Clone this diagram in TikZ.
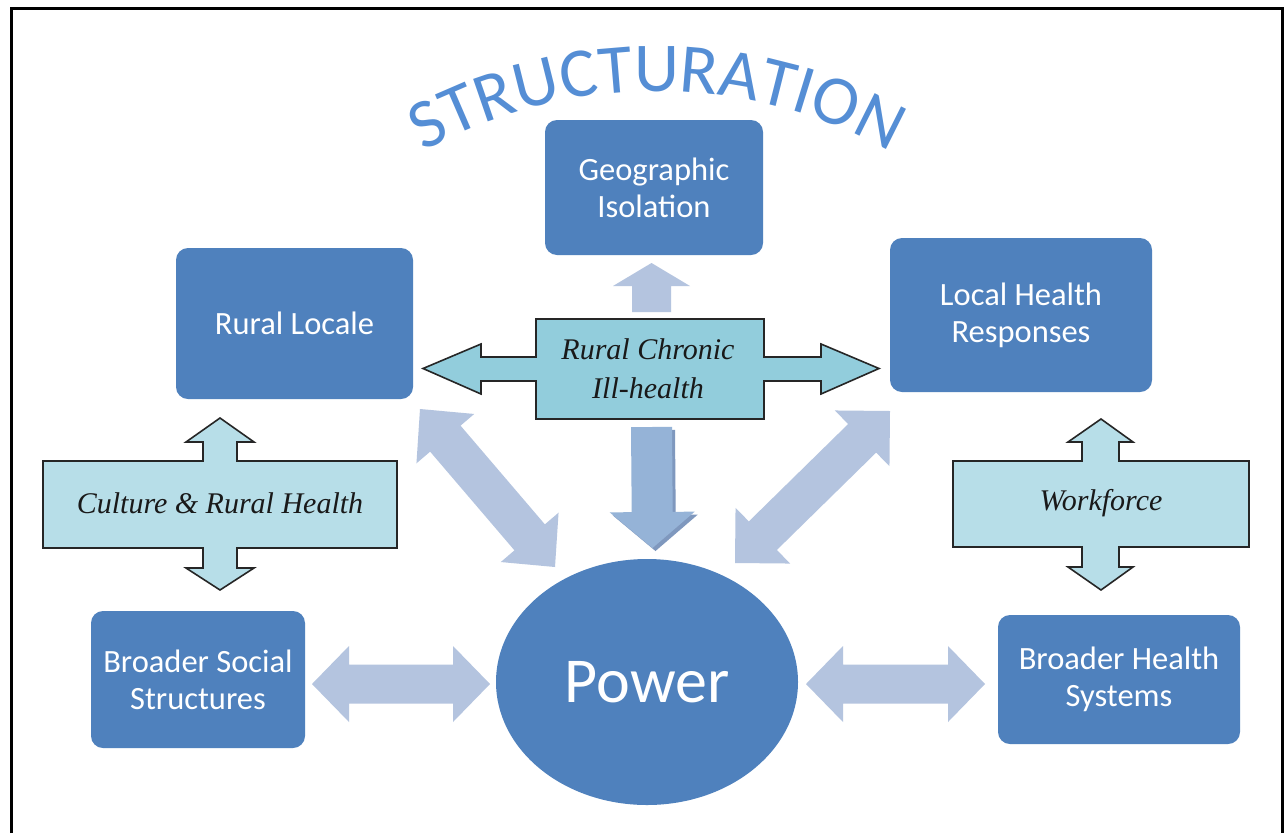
\documentclass[tikz,border=0pt]{standalone}
\usepackage{fontspec}
\setmainfont{Carlito}
\newfontfamily\serifit{Liberation Serif}
\usetikzlibrary{calc,shapes.geometric,decorations.text}
\definecolor{boxblue}{HTML}{4F81BD}
\definecolor{aquamid}{HTML}{92CDDC}
\definecolor{aqualight}{HTML}{B7DEE8}
\definecolor{lightarrow}{HTML}{B4C4DF}
\definecolor{downarrow}{HTML}{95B3D7}
\definecolor{shadowcol}{HTML}{7F98BE}
\definecolor{structcol}{HTML}{558ED5}
\newcommand\structfont{\fontsize{70}{84}\selectfont\color{structcol}}
\newcommand\dblarrow[6]{% style, A, B, halfshaft, halfhead, headlen
 \coordinate (dA) at ($(#2)!#6!(#3)$);
 \coordinate (dB) at ($(#3)!#6!(#2)$);
 \fill[#1] (#2) -- ($(dA)!#5!90:(#3)$) -- ($(dA)!#4!90:(#3)$) -- ($(dB)!#4!-90:(#2)$) -- ($(dB)!#5!-90:(#2)$) -- (#3) -- ($(dB)!#5!90:(#2)$) -- ($(dB)!#4!90:(#2)$) -- ($(dA)!#4!-90:(#3)$) -- ($(dA)!#5!-90:(#3)$) -- cycle;}
\newcommand\sglarrow[6]{% style, base, tip, halfshaft, halfhead, headlen
 \coordinate (sB) at ($(#3)!#6!(#2)$);
 \fill[#1] ($(#2)!#4!90:(#3)$) -- ($(sB)!#4!-90:(#2)$) -- ($(sB)!#5!-90:(#2)$) -- (#3) -- ($(sB)!#5!90:(#2)$) -- ($(sB)!#4!90:(#2)$) -- ($(#2)!#4!-90:(#3)$) -- cycle;}
\tikzset{
 boxnode/.style={fill=boxblue, rounded corners=12pt, text=white, align=center, inner sep=0pt,
   font=\fontsize{32.5}{37}\selectfont},
 callout/.style={draw=black!85, line width=1.6pt, line join=miter},
 callouttext/.style={align=center, inner sep=0pt, text=black!90,
   font=\serifit\itshape\fontsize{30}{39}\selectfont},
 lightarr/.style={fill=lightarrow},
}
\begin{document}
\begin{tikzpicture}[x=1pt,y=-1pt]
\useasboundingbox (0,0) rectangle (1287,833);
\fill[white] (0,0) rectangle (1287,833);
\draw[line width=3pt] (11,833) -- (11,8) -- (1282,8) -- (1282,833);

% title along arc
\begin{scope}[y=1pt]
\path[decorate, decoration={text along path, text={|\structfont|STRUCTURATION}, text align=center}]
  (350.4,-202.6) arc[start angle=130, end angle=50, radius=477];
\end{scope}

% boxes
\node[boxnode, minimum width=218pt, minimum height=135pt] (geo) at (654,187.5) {Geographic\\Isolation};
\node[boxnode, minimum width=237pt, minimum height=151pt] (locale) at (294.5,323.5) {Rural Locale};
\node[boxnode, minimum width=262pt, minimum height=154pt] (local) at (1021,315) {Local Health\\Responses};
\node[boxnode, minimum width=214pt, minimum height=137pt] (social) at (198,679.5) {Broader Social\\Structures};
\node[boxnode, minimum width=242pt, minimum height=129pt] (hsys) at (1119,679.5) {Broader Health\\Systems};
\node[ellipse, fill=boxblue, minimum width=302pt, minimum height=246pt, inner sep=0pt,
  text=white, font=\fontsize{64}{70}\selectfont] (power) at (647,682) {Power};

% light block arrows
\coordinate (bl1) at (312,684); \coordinate (bl2) at (490,684);
\coordinate (br1) at (806,684); \coordinate (br2) at (985,684);
\coordinate (dl1) at (420,409); \coordinate (dl2) at (555,567);
\coordinate (dr1) at (890,411); \coordinate (dr2) at (735,563);
\coordinate (up1) at (651.5,312); \coordinate (up2) at (651.5,263);
\coordinate (dn1) at (651.5,427); \coordinate (dn2) at (652.5,548);
\coordinate (dn1s) at (654.5,430); \coordinate (dn2s) at (655.5,551);
\dblarrow{lightarr}{bl1}{bl2}{19.5pt}{38pt}{37pt}
\dblarrow{lightarr}{br1}{br2}{19.5pt}{38pt}{37pt}
\dblarrow{lightarr}{dl1}{dl2}{20pt}{38pt}{39pt}
\dblarrow{lightarr}{dr1}{dr2}{20pt}{39pt}{39pt}
\sglarrow{lightarr}{up1}{up2}{19.5pt}{38.5pt}{23pt}
\sglarrow{fill=shadowcol}{dn1s}{dn2s}{20.5pt}{42.5pt}{36pt}
\sglarrow{fill=downarrow}{dn1}{dn2}{20.5pt}{42.5pt}{36pt}

% central callout
\draw[callout, fill=aquamid] (536,319) -- (764,319) -- (764,357) -- (821,357) -- (821,344) -- (879,368.5)
  -- (821,394) -- (821,381) -- (764,381) -- (764,419) -- (536,419) -- (536,381) -- (481,381)
  -- (481,394) -- (423,368.5) -- (481,344) -- (481,357) -- (536,357) -- cycle;
\node[callouttext] (chronic) at (648,369) {Rural Chronic\\Ill-health};

% left callout
\draw[callout, fill=aqualight] (43,461) -- (203,461) -- (203,442) -- (186,442) -- (220,418) -- (254,442)
  -- (237,442) -- (237,461) -- (397,461) -- (397,548) -- (237,548) -- (237,568) -- (254,568)
  -- (220,590) -- (186,568) -- (203,568) -- (203,548) -- (43,548) -- cycle;
\node[callouttext] (culture) at (220,503) {Culture \& Rural Health};

% right callout
\draw[callout, fill=aqualight] (953,461) -- (1082,461) -- (1082,442) -- (1068,442) -- (1101,419) -- (1133,442)
  -- (1119,442) -- (1119,461) -- (1249,461) -- (1249,547) -- (1119,547) -- (1119,567) -- (1133,567)
  -- (1101,590) -- (1068,567) -- (1082,567) -- (1082,547) -- (953,547) -- cycle;
\node[callouttext] (workforce) at (1101,503) {Workforce};
\end{tikzpicture}
\end{document}
